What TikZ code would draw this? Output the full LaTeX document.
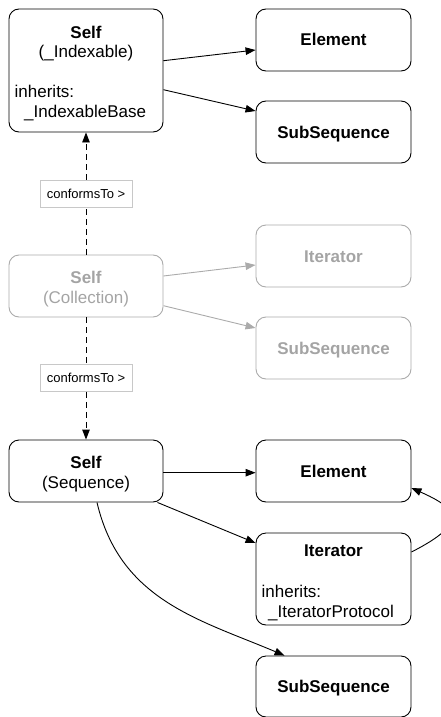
\documentclass[tikz,border=0pt]{standalone}
\usepackage{fontspec}
\setmainfont{Liberation Sans}
\usetikzlibrary{arrows.meta}
\definecolor{faded}{HTML}{ABABAB}
\definecolor{fadedtext}{HTML}{A4A4A4}
\definecolor{tagline}{HTML}{C8C8C8}
\tikzset{
  card/.style={draw, rounded corners=10pt, line width=0.9pt, inner sep=0pt,
    minimum width=154pt, minimum height=62pt},
  dim/.style={draw=faded},
  title/.style={font=\fontsize{17}{20}\selectfont\bfseries, anchor=base, inner sep=0pt},
  body/.style={font=\fontsize{17}{20}\selectfont, anchor=base, inner sep=0pt},
  leftbody/.style={body, anchor=base west},
  tag/.style={draw=tagline, fill=white, line width=0.7pt, minimum width=92pt,
    minimum height=27pt, inner sep=0pt, font=\fontsize{13}{15}\selectfont},
  link/.style={line width=0.9pt, -{Triangle[length=10pt,width=7.5pt]}},
  conform/.style={line width=0.9pt, dash pattern=on 6pt off 4pt},
}
\begin{document}
\begin{tikzpicture}[x=1pt, y=-1pt]
\useasboundingbox (0,0) rectangle (441,717);
\clip (0,0) rectangle (441,717);

% --- _Indexable group ---
\node[card, minimum height=123pt] (idx) at (86,70.5) {};
\node[title] (idxA) at (86,38) {Self};
\node[body] (idxB) at (86,58) {(\_Indexable)};
\node[leftbody] (idxC) at (14.5,97) {inherits:};
\node[leftbody] (idxD) at (24,117) {\_IndexableBase};

\node[card, minimum width=155pt] (elA) at (333.5,40) {};
\node[title] (elAt) at (333.5,46) {Element};
\node[card, minimum width=155pt] (ssA) at (333.5,132) {};
\node[title] (ssAt) at (333.5,138) {SubSequence};

\draw[link] ([yshift=9.8pt]idx.east) -- ([yshift=-10pt]elA.west);
\draw[link] ([yshift=-19.2pt]idx.east) -- ([yshift=21pt]ssA.west);

% --- Collection group (faded) ---
\node[card, dim] (col) at (86,286) {};
\node[title, text=fadedtext] (colA) at (86,283.3) {Self};
\node[body, text=fadedtext] (colB) at (86,303.3) {(Collection)};

\node[card, dim, minimum width=155pt] (itB) at (333.5,256) {};
\node[title, text=fadedtext] (itBt) at (333.5,262) {Iterator};
\node[card, dim, minimum width=155pt] (ssB) at (333.5,348) {};
\node[title, text=fadedtext] (ssBt) at (333.5,354) {SubSequence};

\draw[link, faded] ([yshift=10pt]col.east) -- ([yshift=-9pt]itB.west);
\draw[link, faded] ([yshift=-19.7pt]col.east) -- ([yshift=20pt]ssB.west);

% --- Sequence group ---
\node[card] (seq) at (86,471) {};
\node[title] (seqA) at (86,468.3) {Self};
\node[body] (seqB) at (86,488.3) {(Sequence)};

\node[card, minimum width=155pt] (elC) at (333.5,471) {};
\node[title] (elCt) at (333.5,477) {Element};
\node[card, minimum width=155pt, minimum height=92pt] (itC) at (333.5,579) {};
\node[title] (itCt) at (333.5,556) {Iterator};
\node[leftbody] (itCa) at (261.5,597) {inherits:};
\node[leftbody] (itCb) at (268,617) {\_IteratorProtocol};
\node[card, minimum width=155pt, minimum height=61pt] (ssC) at (333.5,686.5) {};
\node[title] (ssCt) at (333.5,692) {SubSequence};

\draw[link] ([yshift=-1.7pt]seq.east) -- ([yshift=-1.7pt]elC.west);
\draw[link] ([xshift=-6pt]seq.south east) -- ([yshift=36pt]itC.west);
\draw[link] ([xshift=11pt]seq.south) .. controls +(23,98) and +(-85,-36) .. ([xshift=29pt]ssC.north west);
\draw[link] ([yshift=27pt]itC.east) .. controls +(59,-30) and +(45,20) .. ([yshift=-17pt]elC.east);

% --- conformance chain ---
\node[tag] (tagA) at (86,193.5) {conformsTo >};
\node[tag] (tagB) at (86,378) {conformsTo >};
\draw[conform] (col.north) -- (tagA.south);
\draw[conform, -{Triangle[length=10pt,width=7.5pt]}] (tagA.north) -- (idx.south);
\draw[conform] (col.south) -- (tagB.north);
\draw[conform, -{Triangle[length=10pt,width=7.5pt]}] (tagB.south) -- (seq.north);
\end{tikzpicture}
\end{document}
